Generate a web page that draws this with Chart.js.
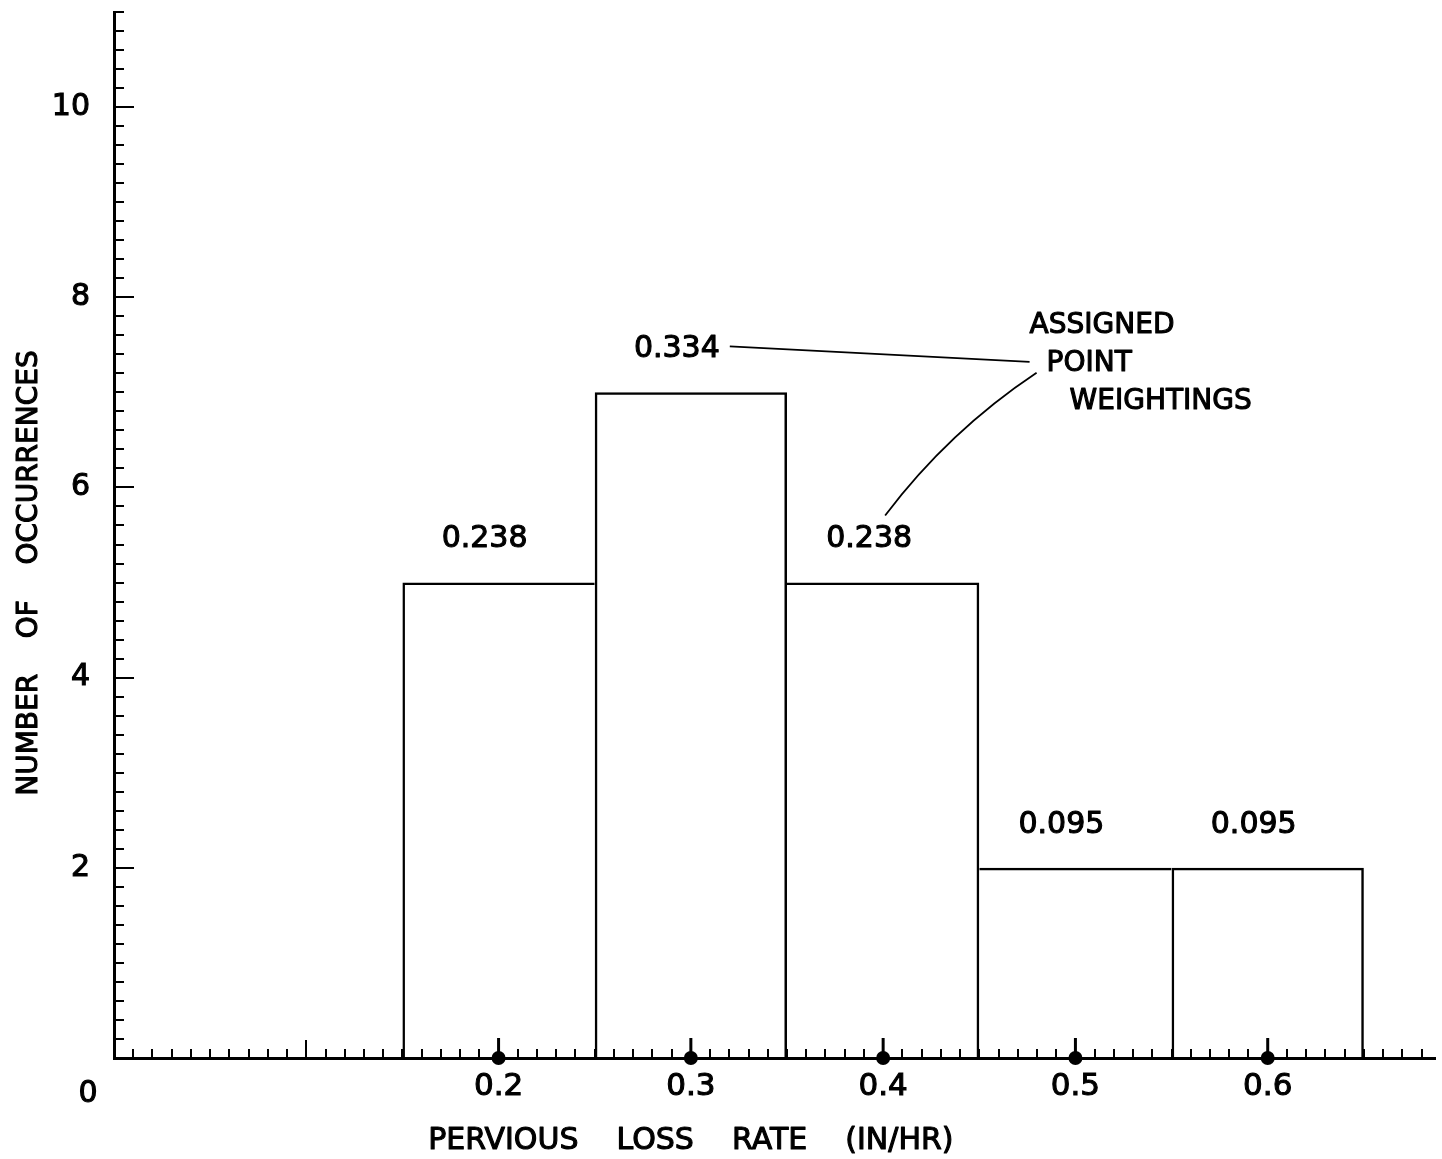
<!DOCTYPE html>
<html>
<head>
<meta charset="utf-8">
<title>Pervious loss rate histogram</title>
<script src="https://cdn.jsdelivr.net/npm/chart.js@4.4.1/dist/chart.umd.min.js"></script>
<style>
  html, body { margin: 0; padding: 0; background: #fff; }
  #wrap { width: 1442px; height: 1159px; }
</style>
</head>
<body>
<div id="wrap"><canvas id="chart" width="1442" height="1159"></canvas></div>
<script>
// Histogram of observed pervious loss rates (in/hr) and the weight given to each class
const binCenters = [0.2, 0.3, 0.4, 0.5, 0.6];
const occurrences = [5, 7, 5, 2, 2];
const pointWeights = ['0.238', '0.334', '0.238', '0.095', '0.095'];
const xTickValues = [0.2, 0.3, 0.4, 0.5, 0.6];
const yTickValues = [2, 4, 6, 8, 10];
const xTitle = 'PERVIOUS    LOSS    RATE    (IN/HR)';
const yTitle = 'NUMBER    OF    OCCURRENCES';
const noteLines = ['ASSIGNED', 'POINT', 'WEIGHTINGS'];

const FONT = '"DejaVu Sans", "Liberation Sans", sans-serif';
const INK = '#000';
const TEXT_STROKE = 1.1;
const EDGE = 2.5;

// Shared bar edges are drawn once, by the taller neighbour
function edgeWidths(i) {
  const last = occurrences.length - 1;
  return {
    top: EDGE,
    bottom: 0,
    left: (i === 0 || occurrences[i] >= occurrences[i - 1]) ? EDGE : 0,
    right: (i === last || occurrences[i] > occurrences[i + 1]) ? EDGE : 0
  };
}

function inkText(ctx, text, x, y) {
  ctx.fillText(text, x, y);
  ctx.strokeText(text, x, y);
}

// Inward ticks, dot stems, titles, weight labels and the callout
const draftingPlugin = {
  id: 'drafting',
  afterDraw(chart) {
    const ctx = chart.ctx;
    const xs = chart.scales.x;
    const ys = chart.scales.y;
    const area = chart.chartArea;
    ctx.save();
    ctx.strokeStyle = INK;
    ctx.fillStyle = INK;
    ctx.lineCap = 'butt';

    // x-axis ticks every 0.01, longer at each 0.1
    ctx.lineWidth = 2;
    for (let i = 1; i <= 68; i++) {
      const px = Math.round(xs.getPixelForValue(i / 100));
      const len = i % 10 === 0 ? 18 : 9;
      ctx.beginPath();
      ctx.moveTo(px, area.bottom);
      ctx.lineTo(px, area.bottom - len);
      ctx.stroke();
    }
    // y-axis ticks every 0.2, longer at even counts
    for (let j = 1; j <= 55; j++) {
      const py = Math.round(ys.getPixelForValue(j / 5));
      const len = j % 10 === 0 ? 20 : 10;
      ctx.beginPath();
      ctx.moveTo(area.left, py);
      ctx.lineTo(area.left + len, py);
      ctx.stroke();
    }
    // stems above the class-mark dots
    ctx.lineWidth = 3;
    binCenters.forEach(v => {
      const px = xs.getPixelForValue(v);
      ctx.beginPath();
      ctx.moveTo(px, area.bottom);
      ctx.lineTo(px, area.bottom - 20);
      ctx.stroke();
    });

    ctx.lineWidth = TEXT_STROKE;
    ctx.lineJoin = 'round';

    // origin label
    ctx.font = '30px ' + FONT;
    ctx.textAlign = 'center';
    ctx.textBaseline = 'middle';
    inkText(ctx, '0', area.left - 26, area.bottom + 36);

    // axis titles
    inkText(ctx, xTitle, xs.getPixelForValue(0.3), area.bottom + 83);
    ctx.save();
    ctx.font = '28px ' + FONT;
    ctx.translate(30, ys.getPixelForValue(5.1));
    ctx.rotate(-Math.PI / 2);
    inkText(ctx, yTitle, 0, 0);
    ctx.restore();

    // weight labels above each bar
    const bars = chart.getDatasetMeta(1).data;
    ctx.font = '30px ' + FONT;
    const boxes = bars.map((bar, i) => {
      const cx = bar.x - 14;
      const cy = bar.y - 43;
      inkText(ctx, pointWeights[i], cx, cy);
      const w = ctx.measureText(pointWeights[i]).width;
      return { cx, cy, left: cx - w / 2, right: cx + w / 2, top: cy - 12 };
    });

    // callout text
    const noteX = xs.getPixelForValue(0.485);
    const noteY = ys.getPixelForValue(7.3);
    ctx.font = '28px ' + FONT;
    ctx.textAlign = 'left';
    inkText(ctx, noteLines[0], noteX - 17, noteY - 38);
    inkText(ctx, noteLines[1], noteX, noteY);
    inkText(ctx, noteLines[2], noteX + 23, noteY + 38);

    // leader to the tallest bar's weight
    ctx.lineWidth = 1.8;
    const top = boxes[1];
    ctx.beginPath();
    ctx.moveTo(top.right + 10, top.cy - 3);
    ctx.lineTo(noteX - 17, noteY - 2);
    ctx.stroke();

    // curved leader to the third bar's weight
    const lbl = boxes[2];
    const sx = noteX - 10, sy = noteY + 9;
    const ex = lbl.cx + 16, ey = lbl.top - 12;
    const cpx = sx - 0.58 * (sx - ex);
    const cpy = sy + 0.41 * (ey - sy);
    ctx.beginPath();
    ctx.moveTo(sx, sy);
    ctx.quadraticCurveTo(cpx, cpy, ex, ey);
    ctx.stroke();

    ctx.restore();
  }
};

new Chart(document.getElementById('chart'), {
  type: 'bar',
  data: {
    datasets: [
      {
        type: 'scatter',
        label: 'class marks',
        data: binCenters.map(x => ({ x, y: 0 })),
        pointRadius: 7,
        pointHoverRadius: 7,
        pointBackgroundColor: INK,
        pointBorderColor: INK,
        pointBorderWidth: 0,
        clip: false,
        order: 0
      },
      {
        type: 'bar',
        label: 'occurrences',
        data: binCenters.map((x, i) => ({ x, y: occurrences[i] })),
        backgroundColor: 'rgba(255,255,255,0)',
        borderColor: INK,
        borderWidth: c => edgeWidths(c.dataIndex),
        borderSkipped: 'bottom',
        inflateAmount: 0,
        barPercentage: 1,
        categoryPercentage: 1,
        order: 1
      }
    ]
  },
  options: {
    responsive: false,
    animation: false,
    devicePixelRatio: 1,
    layout: { padding: { top: 12, right: 1, left: 0, bottom: 0 } },
    plugins: {
      legend: { display: false },
      tooltip: { enabled: false },
      title: { display: false }
    },
    scales: {
      x: {
        type: 'linear',
        min: 0,
        max: 0.687,
        offset: false,
        grid: { display: false, drawTicks: false, offset: false },
        border: { display: true, color: INK, width: 3 },
        afterBuildTicks: scale => { scale.ticks = xTickValues.map(v => ({ value: v })); },
        afterFit: scale => {
          scale.height = 101;
          scale.paddingLeft = 0;
          scale.paddingRight = 0;
        },
        ticks: {
          autoSkip: false,
          maxRotation: 0,
          padding: 10,
          color: INK,
          textStrokeColor: INK,
          textStrokeWidth: TEXT_STROKE,
          font: { family: FONT, size: 31 },
          callback: v => v.toFixed(1)
        }
      },
      y: {
        type: 'linear',
        min: 0,
        max: 11,
        grid: { display: false, drawTicks: false },
        border: { display: true, color: INK, width: 3 },
        afterBuildTicks: scale => { scale.ticks = yTickValues.map(v => ({ value: v })); },
        afterFit: scale => {
          scale.width = 114;
          scale.paddingTop = 0;
          scale.paddingBottom = 0;
        },
        ticks: {
          padding: 24,
          color: INK,
          textStrokeColor: INK,
          textStrokeWidth: TEXT_STROKE,
          font: { family: FONT, size: 30 },
          callback: v => String(v)
        }
      }
    }
  },
  plugins: [draftingPlugin]
});
</script>
</body>
</html>
